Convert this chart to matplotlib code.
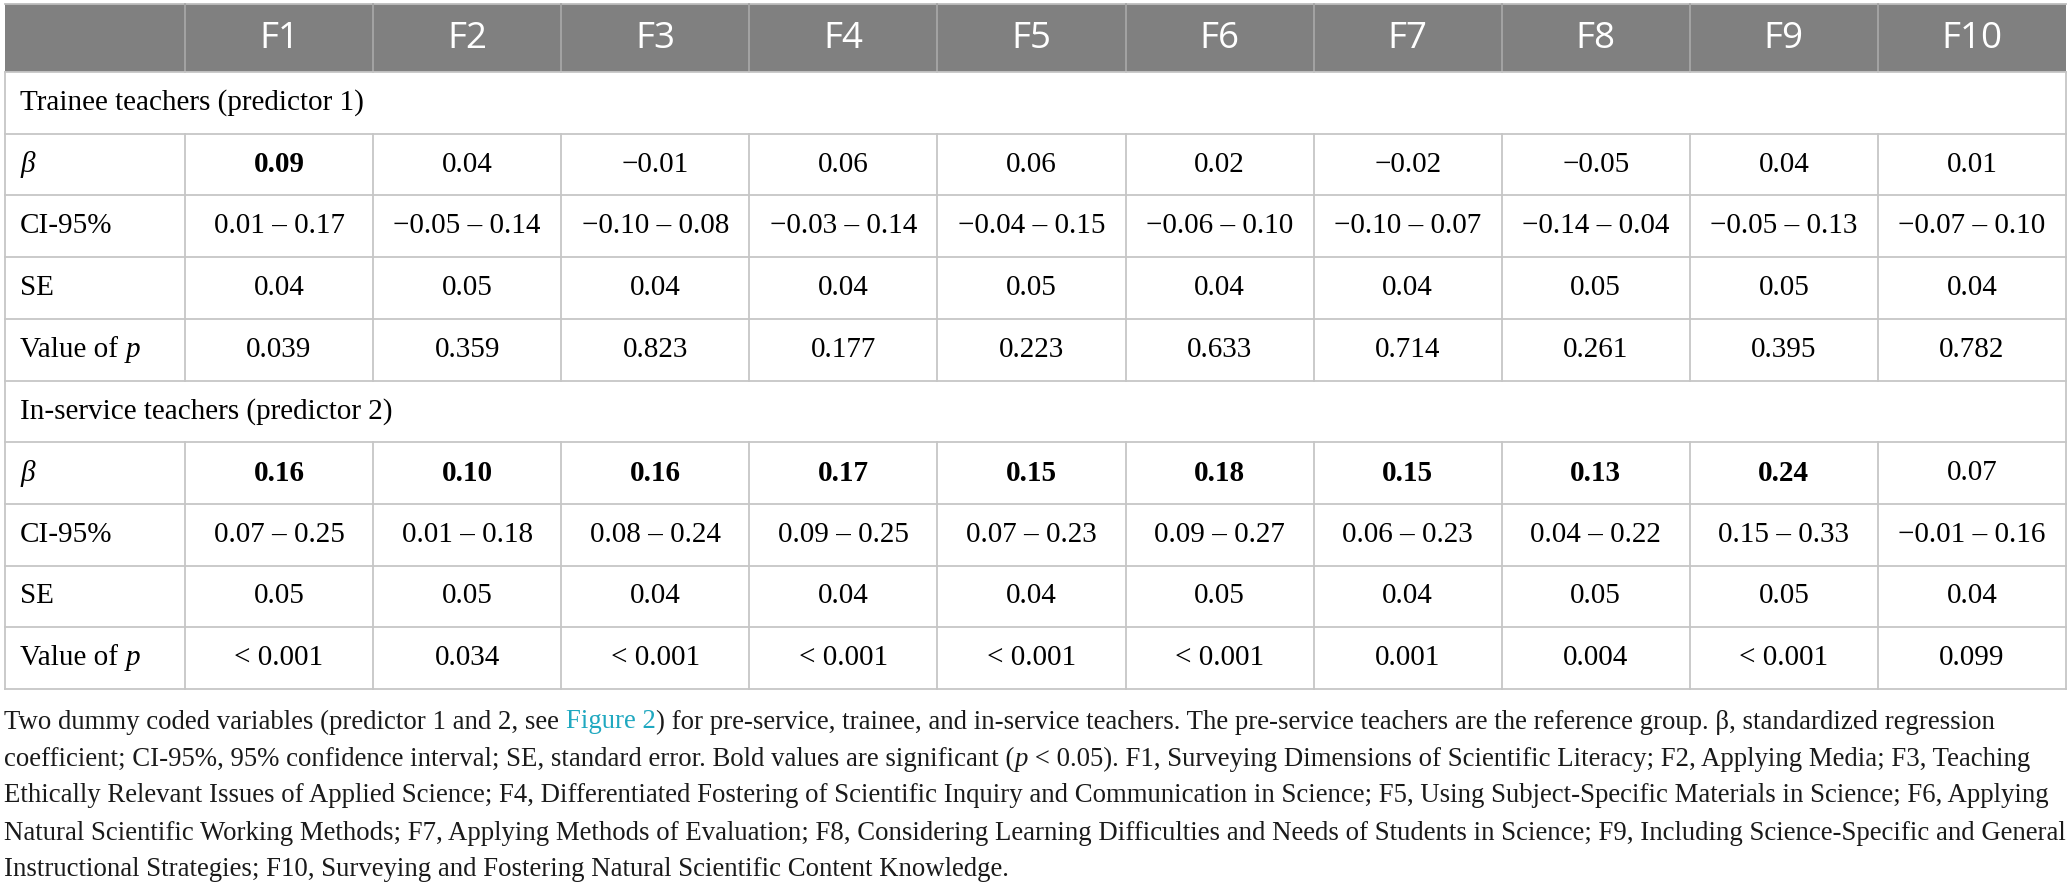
import numpy as np
import matplotlib
matplotlib.use("Agg")
import matplotlib.pyplot as plt
from matplotlib.font_manager import FontProperties

# table data
factors = ["F1", "F2", "F3", "F4", "F5", "F6", "F7", "F8", "F9", "F10"]

trainee_beta = [0.09, 0.04, -0.01, 0.06, 0.06, 0.02, -0.02, -0.05, 0.04, 0.01]
trainee_ci_lo = [0.01, -0.05, -0.10, -0.03, -0.04, -0.06, -0.10, -0.14, -0.05, -0.07]
trainee_ci_hi = [0.17, 0.14, 0.08, 0.14, 0.15, 0.10, 0.07, 0.04, 0.13, 0.10]
trainee_se = [0.04, 0.05, 0.04, 0.04, 0.05, 0.04, 0.04, 0.05, 0.05, 0.04]
trainee_p = ["0.039", "0.359", "0.823", "0.177", "0.223", "0.633", "0.714", "0.261", "0.395", "0.782"]

inservice_beta = [0.16, 0.10, 0.16, 0.17, 0.15, 0.18, 0.15, 0.13, 0.24, 0.07]
inservice_ci_lo = [0.07, 0.01, 0.08, 0.09, 0.07, 0.09, 0.06, 0.04, 0.15, -0.01]
inservice_ci_hi = [0.25, 0.18, 0.24, 0.25, 0.23, 0.27, 0.23, 0.22, 0.33, 0.16]
inservice_se = [0.05, 0.05, 0.04, 0.04, 0.04, 0.05, 0.04, 0.05, 0.05, 0.04]
inservice_p = ["< 0.001", "0.034", "< 0.001", "< 0.001", "< 0.001", "< 0.001", "0.001", "0.004", "< 0.001", "0.099"]

groups = ["Trainee teachers (predictor 1)", "In-service teachers (predictor 2)"]

# footnote, as runs of (text, style)
note_lines = [
    [("Two dummy coded variables (predictor 1 and 2, see ", "n"), ("Figure 2", "link"),
     (") for pre-service, trainee, and in-service teachers. The pre-service teachers are the reference group. \u03b2, standardized regression", "n")],
    [("coefficient; CI-95%, 95% confidence interval; SE, standard error. Bold values are significant (", "n"), ("p", "i"),
     (" < 0.05). F1, Surveying Dimensions of Scientific Literacy; F2, Applying Media; F3, Teaching", "n")],
    [("Ethically Relevant Issues of Applied Science; F4, Differentiated Fostering of Scientific Inquiry and Communication in Science; F5, Using Subject-Specific Materials in Science; F6, Applying", "n")],
    [("Natural Scientific Working Methods; F7, Applying Methods of Evaluation; F8, Considering Learning Difficulties and Needs of Students in Science; F9, Including Science-Specific and General", "n")],
    [("Instructional Strategies; F10, Surveying and Fostering Natural Scientific Content Knowledge.", "n")],
]


def fmt(v):
    return f"{v:.2f}".replace("-", "\u2212")


def is_sig(p):
    return p.startswith("<") or float(p) < 0.05


W, H = 2068, 891
fig = plt.figure(figsize=(W / 100, H / 100), dpi=100)
ax = fig.add_axes([0, 0, 1, 1])
ax.set_xlim(0, W)
ax.set_ylim(H, 0)
ax.axis("off")
renderer = fig.canvas.get_renderer()

serif = "Liberation Serif"
body_size = 21
grid_c = "#c6c6c6"
lw = 1.3


def run_width(s, prop):
    w1, _, _ = renderer.get_text_width_height_descent("|" + s + "|", prop, ismath=False)
    w0, _, _ = renderer.get_text_width_height_descent("||", prop, ismath=False)
    return w1 - w0


x_left, x_right = 5, 2066
first_w = 180
col_w = (x_right - x_left - first_w) / len(factors)
col_edges = [x_left, x_left + first_w] + [x_left + first_w + col_w * (i + 1) for i in range(len(factors))]
col_mid = [(col_edges[i + 1] + col_edges[i + 2]) / 2 for i in range(len(factors))]

head_top, head_bot = 4, 72
row_h = 61.7
n_rows = 10
row_edges = [head_bot + row_h * k for k in range(n_rows + 1)]

# header band
ax.fill_between([x_left, x_right], head_top, head_bot, color="#808080", lw=0)
ax.plot([x_left, x_right], [head_top, head_top], color="#bdbdbd", lw=lw)
for xe in col_edges[1:-1]:
    ax.plot([xe, xe], [head_top, head_bot], color="#a6a6a6", lw=lw)
for name, xm in zip(factors, col_mid):
    ax.text(xm, (head_top + head_bot) / 2 + 1, name, ha="center", va="center",
            color="white", fontsize=26.5, family="Open Sans")

# rows
section_rows = [0, 5]
blocks = [
    (trainee_beta, trainee_ci_lo, trainee_ci_hi, trainee_se, trainee_p),
    (inservice_beta, inservice_ci_lo, inservice_ci_hi, inservice_se, inservice_p),
]

for yk in row_edges:
    ax.plot([x_left, x_right], [yk, yk], color=grid_c, lw=lw)
ax.plot([x_left, x_left], [head_bot, row_edges[-1]], color=grid_c, lw=lw)
ax.plot([x_right, x_right], [head_bot, row_edges[-1]], color=grid_c, lw=lw)

body_prop = FontProperties(family=serif, size=body_size)
for g, (beta, lo, hi, se, pv) in enumerate(blocks):
    r0 = section_rows[g]
    yc = (row_edges[r0] + row_edges[r0 + 1]) / 2
    ax.text(20, yc, groups[g], ha="left", va="center", fontsize=body_size, family=serif)
    for k in range(4):
        r = r0 + 1 + k
        y0, y1 = row_edges[r], row_edges[r + 1]
        for xe in col_edges[1:-1]:
            ax.plot([xe, xe], [y0, y1], color=grid_c, lw=lw)
    labels_y = [(row_edges[r0 + 1 + k] + row_edges[r0 + 2 + k]) / 2 for k in range(4)]
    # row labels
    ax.text(20, labels_y[0], "\u03b2", ha="left", va="center", fontsize=body_size, family=serif, style="italic")
    ax.text(20, labels_y[1], "CI-95%", ha="left", va="center", fontsize=body_size, family=serif)
    ax.text(20, labels_y[2], "SE", ha="left", va="center", fontsize=body_size, family=serif)
    ax.text(20, labels_y[3], "Value of ", ha="left", va="center", fontsize=body_size, family=serif)
    ax.text(20 + run_width("Value of ", body_prop), labels_y[3], "p", ha="left", va="center",
            fontsize=body_size, family=serif, style="italic")
    for i, xm in enumerate(col_mid):
        ax.text(xm, labels_y[0], fmt(beta[i]), ha="center", va="center", fontsize=body_size, family=serif,
                weight="bold" if is_sig(pv[i]) else "normal")
        ax.text(xm, labels_y[1], fmt(lo[i]) + " \u2013 " + fmt(hi[i]), ha="center", va="center",
                fontsize=body_size, family=serif)
        ax.text(xm, labels_y[2], fmt(se[i]), ha="center", va="center", fontsize=body_size, family=serif)
        ax.text(xm, labels_y[3], pv[i], ha="center", va="center", fontsize=body_size, family=serif)


# footnote
def props(style, size):
    return FontProperties(family=serif, size=size, style="italic" if style == "i" else "normal")


# fit note size so the first line spans the same width as in the reference
base = 20.0
w_first = sum(run_width(s, props(st, base)) for s, st in note_lines[0])
note_size = base * 1990 / w_first

note_y0, note_dy = 722, 37
for li, runs in enumerate(note_lines):
    x = 4
    y = note_y0 + li * note_dy
    for s, st in runs:
        p = props(st, note_size)
        ax.text(x, y, s, ha="left", va="center", fontproperties=p,
                color="#1fa8c0" if st == "link" else "#1a1a1a")
        x += run_width(s, p)

fig.savefig("out.png", dpi=100, facecolor="white")
